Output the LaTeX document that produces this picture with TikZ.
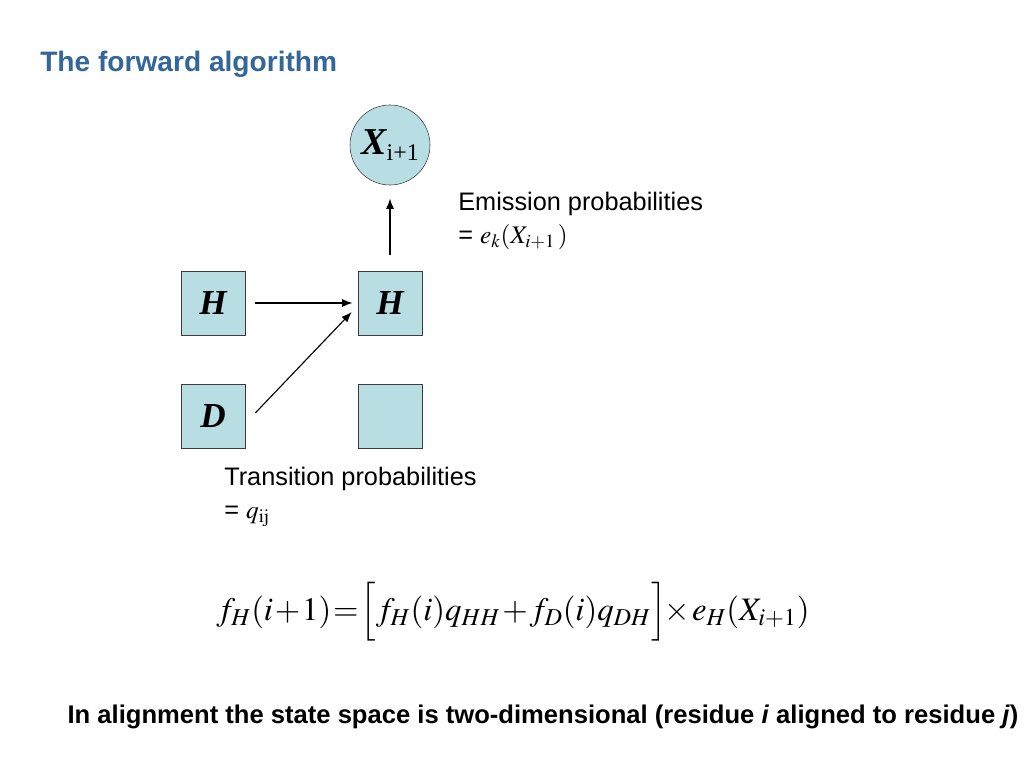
\documentclass[tikz,border=0pt]{standalone}
\usepackage{mathptmx}
\usepackage[no-math]{fontspec}
\setmainfont{Liberation Sans}
\newfontfamily\tnr{Liberation Serif}
\usetikzlibrary{positioning,arrows.meta,calc}
\definecolor{titleblue}{RGB}{51,102,153}
\definecolor{statefill}{RGB}{184,222,227}
\definecolor{stateedge}{RGB}{60,60,60}

\tikzset{
  statebox/.style={rectangle,draw=stateedge,fill=statefill,minimum size=1.6cm,
    inner sep=0pt,font=\tnr\fontsize{25}{28}\selectfont\bfseries\itshape},
  obscircle/.style={circle,draw=stateedge,fill=statefill,minimum size=2cm,inner sep=0pt},
  lbl/.style={align=left,inner sep=0pt,font=\fontsize{18}{23.5}\selectfont},
  arr/.style={-{Latex[length=2.6mm,width=2mm]},line width=0.8pt}
}

\begin{document}
\begin{tikzpicture}[x=0.025cm,y=-0.025cm]
\useasboundingbox (0,0) rectangle (1024,768);
% title
\node[anchor=base west,inner sep=0pt,text=titleblue,font=\fontsize{20}{24}\selectfont\bfseries]
  (title) at (40,72) {The forward algorithm};
% states
\node[statebox] (hprev) at (213,303) {H};
\node[statebox] (hcur) at (390,303) {H};
\node[statebox] (dprev) at (213,416) {D};
\node[statebox] (dcur) at (390,416) {};
\node[obscircle] (xobs) at (390,145)
  {\tnr\fontsize{27}{30}\selectfont\textbf{\textit{X}}\kern-0.5pt%
   \raisebox{-4pt}{\fontsize{17}{20}\selectfont i+1}};
% connectors
\draw[arr,shorten <=0.25cm,shorten >=0.13cm] (hprev.east) -- (hcur.west);
\draw[arr] ($(dprev.east)+(10,-3)$) -- ($(hcur.west)+(-6,9)$);
\draw[arr,shorten <=0.4cm,shorten >=0.33cm] (hcur.north) -- (xobs.south);
% labels
\node[lbl,anchor=north west] (emit) at (458,192)
  {Emission probabilities\\= $e_k(X_{i+1}\,)$};
\node[lbl,anchor=north west] (trans) at (224,467)
  {Transition probabilities\\= $q_{\mathrm{ij}}$};
% recursion
\node[inner sep=0pt,font=\fontsize{23.3}{28}\selectfont] (formula) at (513,612)
  {\medmuskip=1mu\thickmuskip=1mu
   $f_H(i+1)=\Big[f_H(i)q_{HH}+f_D(i)q_{DH}\Big]\!\times e_H(X_{i+1})$};
\node[anchor=base,inner sep=0pt,font=\fontsize{18.2}{22}\selectfont\bfseries] (note) at (543,723)
  {In alignment the state space is two-dimensional (residue \textit{i} aligned to residue \textit{j})};
\end{tikzpicture}
\end{document}
